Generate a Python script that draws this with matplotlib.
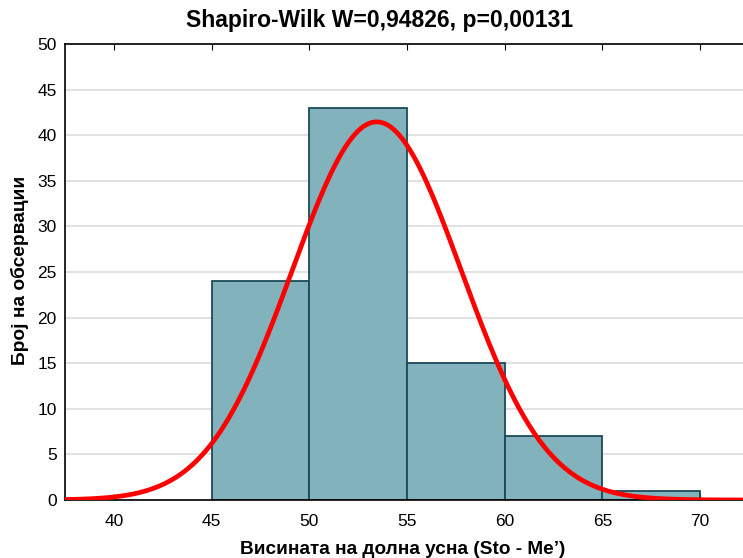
import numpy as np
import matplotlib
matplotlib.use("Agg")
import matplotlib.pyplot as plt

plt.rcParams['font.family'] = ['Liberation Sans', 'DejaVu Sans']

bin_edges = [45, 50, 55, 60, 65, 70]
counts = [24, 43, 15, 7, 1]
fit_mean = 53.45
fit_sd = 4.33
x_ticks = [40, 45, 50, 55, 60, 65, 70]
y_ticks = [0, 5, 10, 15, 20, 25, 30, 35, 40, 45, 50]

fig = plt.figure(figsize=(7.43, 5.58), dpi=100)
ax = fig.add_axes([65/743, 58/558, (749-65)/743, (500-44)/558])

lefts = bin_edges[:-1]
widths = np.diff(bin_edges)
ax.bar(lefts, counts, width=widths, align='edge', color='#82b3bd',
       edgecolor='#1d4a5a', linewidth=1.3, zorder=2)

n = sum(counts)
bw = widths[0]
xs = np.linspace(37.5, 72.5, 400)
ys = n * bw / (fit_sd * np.sqrt(2 * np.pi)) * np.exp(-0.5 * ((xs - fit_mean) / fit_sd) ** 2)
ax.plot(xs, ys, color='#ff0000', linewidth=3.4, zorder=3, solid_capstyle='butt')

ax.set_xlim(37.5, 72.5)
ax.set_ylim(0, 50)
ax.set_xticks(x_ticks)
ax.set_yticks(y_ticks)
ax.tick_params(axis='x', direction='in', top=True, bottom=True, length=4,
               labelsize=12.5, pad=10, color='black')
ax.tick_params(axis='y', length=0, labelsize=12.5, pad=6)
ax.yaxis.grid(True, color='#dcdcdc', linewidth=1.2, zorder=0)
ax.set_axisbelow(True)
for s in ['left', 'top', 'bottom']:
    ax.spines[s].set_linewidth(1.2)
    ax.spines[s].set_color('black')
ax.spines['right'].set_visible(False)

fig.text(380/743, 1 - 20/558, 'Shapiro-Wilk W=0,94826, p=0,00131', ha='center', va='center',
         fontsize=16.5, fontweight='bold')
fig.text(403/743, 1 - 549/558, 'Висината на долна усна (Sto - Me’)', ha='center', va='center',
         fontsize=13.7, fontweight='bold')
fig.text(20/743, 1 - 270/558, 'Број на обсервации', ha='center', va='center',
         rotation=90, fontsize=13.8, fontweight='bold')

fig.savefig('out.png', dpi=100)
